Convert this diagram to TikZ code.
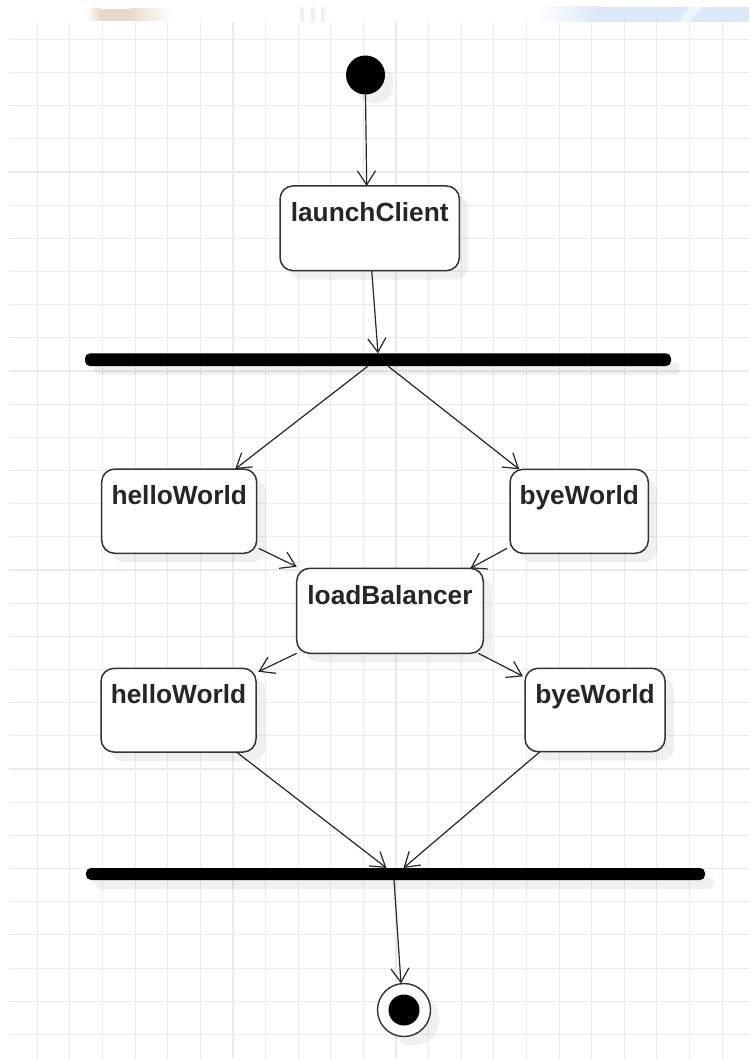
\documentclass[tikz,border=0pt]{standalone}
\usepackage{fontspec}
\setmainfont{Liberation Sans}
\usetikzlibrary{arrows.meta,shadows}
\definecolor{gridc}{HTML}{EBEBEB}
\definecolor{stripblue}{HTML}{DCE8F8}
\definecolor{stripbrown}{HTML}{E8DACB}
\definecolor{stripgray}{HTML}{F0F0F0}
\begin{document}
\begin{tikzpicture}[x=1pt,y=-1pt,
  shad/.style={drop shadow={shadow xshift=9pt,shadow yshift=-9pt,fill=black,opacity=0.06}},
  statebox/.style={draw=black!80,line width=1.5pt,rounded corners=13pt,fill=white,outer sep=0pt,inner sep=0pt,shad},
  lbl/.style={font=\bfseries\fontsize{26.3}{30}\selectfont,text=black!85,anchor=base,inner sep=0pt},
  syncbar/.style={fill=black,rounded corners=5pt,outer sep=0pt,inner sep=0pt,shad},
  conn/.style={draw=black!85,line width=1.2pt,-{Straight Barb[length=14pt,width=18pt,line width=1.2pt]}},
  gridline/.style={draw=gridc,line width=1.1pt}
]
\useasboundingbox (0,0) rectangle (749,1059);
\fill[white] (0,0) rectangle (749,1059);
% faint strip at top
\shade[left color=white,right color=stripbrown] (86,9) rectangle (100,21);
\fill[stripbrown] (100,9) rectangle (130,21);
\shade[left color=stripbrown,right color=white] (130,9) rectangle (172,21);
\fill[stripgray] (300,7) rectangle (304,22);
\fill[stripgray] (311,7) rectangle (315,22);
\fill[stripgray] (321,7) rectangle (325,22);
\shade[left color=white,right color=stripblue] (535,7) rectangle (600,22);
\fill[stripblue] (600,7) rectangle (749,22);
\fill[white!55!stripblue] (678,22) -- (690,7) -- (702,7) -- (690,22) -- cycle;
% grid
\foreach \i in {0,...,21} {
  \draw[gridline] (37.3+32.61*\i,21.7) -- (37.3+32.61*\i,1059);
}
\foreach \j in {0,...,30} {
  \draw[gridline] (8.6,39.3+33.17*\j) -- (749,39.3+33.17*\j);
}
% nodes
\node[circle,fill=black,minimum size=39pt,inner sep=0pt,outer sep=0pt,shad] (start) at (365.5,75) {};
\node[statebox,minimum width=179.3pt,minimum height=84.7pt] (lc) at (369.7,228.3) {};
\node[lbl] (lct) at ([yshift=-36pt]lc.north) {launchClient};
\node[syncbar,minimum width=586pt,minimum height=12.7pt] (bar1) at (378,359.7) {};
\node[statebox,minimum width=155pt,minimum height=84.3pt] (hw1) at (179.2,511.2) {};
\node[lbl] (hw1t) at ([yshift=-35.5pt]hw1.north) {helloWorld};
\node[statebox,minimum width=138.3pt,minimum height=84pt] (bw1) at (579.2,511.3) {};
\node[lbl] (bw1t) at ([yshift=-35.5pt]bw1.north) {byeWorld};
\node[statebox,minimum width=186.6pt,minimum height=85pt] (lb) at (390,610.8) {};
\node[lbl] (lbt) at ([yshift=-36pt]lb.north) {loadBalancer};
\node[statebox,minimum width=155pt,minimum height=83.7pt] (hw2) at (178.5,710.2) {};
\node[lbl] (hw2t) at ([yshift=-35.5pt]hw2.north) {helloWorld};
\node[statebox,minimum width=140pt,minimum height=83.4pt] (bw2) at (595,710) {};
\node[lbl] (bw2t) at ([yshift=-35.5pt]bw2.north) {byeWorld};
\node[syncbar,minimum width=619pt,minimum height=12pt] (bar2) at (395.5,874) {};
\node[circle,draw=black!80,line width=1.4pt,fill=white,minimum size=53pt,inner sep=0pt,outer sep=0pt,shad] (end) at (404,1010) {};
\node[circle,fill=black,minimum size=31pt,inner sep=0pt,outer sep=0pt] (endin) at (end.center) {};
% connectors
\draw[conn] (start.south) -- ([xshift=-3pt]lc.north);
\draw[conn] ([xshift=2pt]lc.south) -- (bar1.north);
\draw[conn] ([xshift=-10pt]bar1.south) -- ([xshift=56pt]hw1.north);
\draw[conn] ([xshift=10pt]bar1.south) -- ([xshift=-60pt]bw1.north);
\draw[conn] ([xshift=2pt,yshift=5pt]hw1.south east) -- ([yshift=1.5pt]lb.north west);
\draw[conn] ([xshift=-3pt,yshift=5pt]bw1.south west) -- ([xshift=-13pt]lb.north east);
\draw[conn] (lb.south west) -- ([xshift=2.3pt,yshift=-3.4pt]hw2.north east);
\draw[conn] ([xshift=-5pt]lb.south east) -- ([xshift=-2pt,yshift=-8pt]bw2.north west);
\draw[conn] ([xshift=58pt]hw2.south) -- ([xshift=-9pt]bar2.north);
\draw[conn] ([xshift=-55pt]bw2.south) -- ([xshift=8pt]bar2.north);
\draw[conn] ([xshift=-1.5pt]bar2.south) -- ([xshift=-3pt]end.north);
\end{tikzpicture}
\end{document}
